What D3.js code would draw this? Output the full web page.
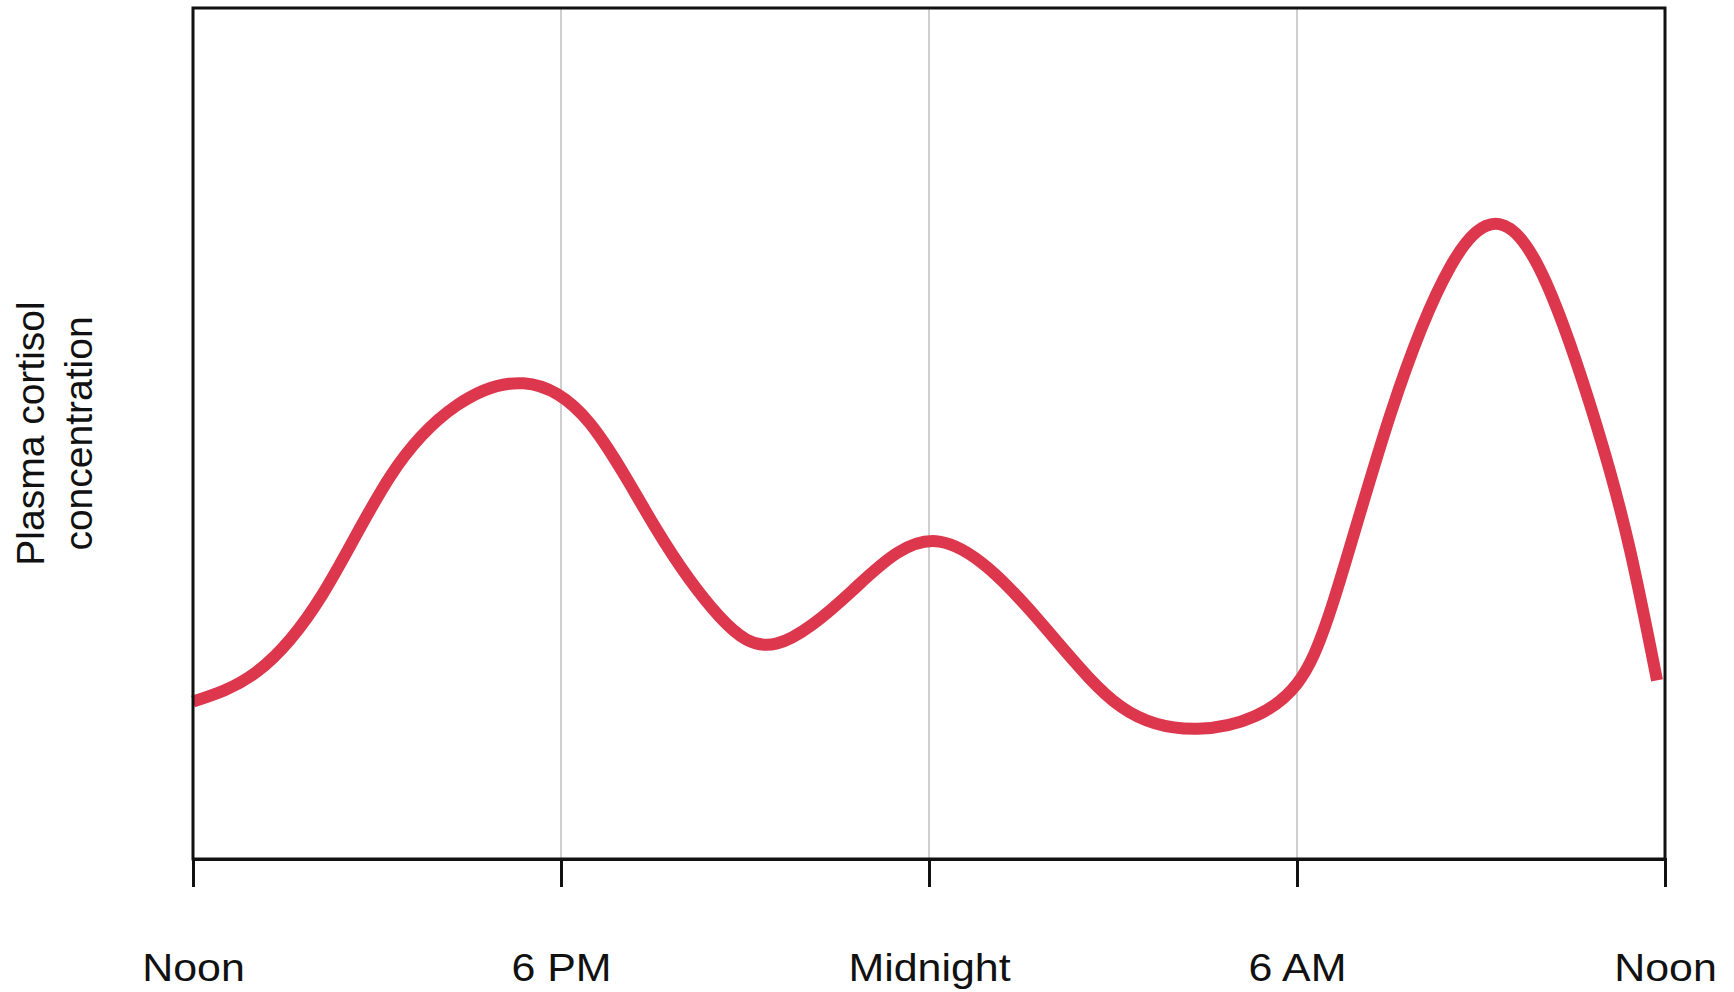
<!DOCTYPE html>
<html>
<head>
<meta charset="utf-8">
<script src="https://cdn.jsdelivr.net/npm/d3@7"></script>
<style>
    body { margin: 0; background: #fff; }
    text { font-family: "Liberation Sans", Arial, Helvetica, sans-serif; fill: #111; }
</style>
</head>
<body>
<div id="chart"></div>
<script>
// hours after noon
const hours = [0, 1.04, 2.12, 3.21, 4.3, 5.39, 6.47, 7.56, 8.57, 9.51, 10.76, 12.17, 13.76, 15.13,
    16.38, 17.32, 18.0, 18.6, 19.53, 20.5, 21.3, 22.07, 22.89, 23.43, 23.87];
// relative cortisol level (0 = bottom of the frame, 100 = top)
const cortisol = [18.5, 22.0, 31.2, 44.9, 53.3, 55.9, 51.2, 38.7, 28.6, 25.3, 31.6, 37.3, 28.3, 17.9,
    15.3, 16.8, 20.6, 30.4, 52.4, 69.6, 74.6, 67.6, 50.8, 36.3, 21.0];
const tickHours = [0, 6, 12, 18, 24];
const tickLabels = ['Noon', '6 PM', 'Midnight', '6 AM', 'Noon'];
const gridHours = [6, 12, 18];
const yLabelLines = ['Plasma cortisol', 'concentration'];

const width = 1734, height = 992;
const margin = {top: 8, right: 69, bottom: 133, left: 193};

const svg = d3.select('#chart')
    .append('svg')
    .attr('width', width)
    .attr('height', height);

const x = d3.scaleLinear()
    .domain([0, 24])
    .range([margin.left, width - margin.right]);

const y = d3.scaleLinear()
    .domain([0, 100])
    .range([height - margin.bottom, margin.top]);

// light vertical grid
svg.append('g')
    .selectAll('line')
    .data(gridHours)
    .join('line')
    .attr('x1', d => x(d))
    .attr('x2', d => x(d))
    .attr('y1', y(0))
    .attr('y2', y(100))
    .attr('stroke', '#cfcfcf')
    .attr('stroke-width', 2);

// cortisol curve
const data = hours.map((h, i) => ({h: h, v: cortisol[i]}));
const line = d3.line()
    .x(d => x(d.h))
    .y(d => y(d.v))
    .curve(d3.curveNatural);

svg.append('path')
    .datum(data)
    .attr('d', line)
    .attr('fill', 'none')
    .attr('stroke', '#dc374d')
    .attr('stroke-width', 12)
    .attr('stroke-linejoin', 'round');

// frame
svg.append('rect')
    .attr('x', x(0))
    .attr('y', y(100))
    .attr('width', x(24) - x(0))
    .attr('height', y(0) - y(100))
    .attr('fill', 'none')
    .attr('stroke', '#111')
    .attr('stroke-width', 3);

// bottom axis with ticks below
const xAxis = svg.append('g')
    .attr('transform', `translate(0,${y(0)})`)
    .call(d3.axisBottom(x)
        .tickValues(tickHours)
        .tickFormat((d, i) => tickLabels[i])
        .tickSize(28)
        .tickPadding(0));

xAxis.select('.domain')
    .attr('stroke', '#111')
    .attr('stroke-width', 3);
xAxis.selectAll('.tick line')
    .attr('stroke', '#111')
    .attr('stroke-width', 3);
xAxis.selectAll('.tick text')
    .attr('y', 122)
    .attr('dy', 0)
    .attr('fill', '#111')
    .style('font-size', '38px')
    .attr('transform', 'scale(1.13,1)');

// y axis title, two lines rotated
const yTitle = svg.append('text')
    .attr('transform', `translate(44,${(y(0) + y(100)) / 2})rotate(-90)`)
    .attr('text-anchor', 'middle')
    .style('font-size', '39px');

yTitle.selectAll('tspan')
    .data(yLabelLines)
    .join('tspan')
    .attr('x', 0)
    .attr('dy', (d, i) => i === 0 ? 0 : 48)
    .text(d => d);
</script>
</body>
</html>
